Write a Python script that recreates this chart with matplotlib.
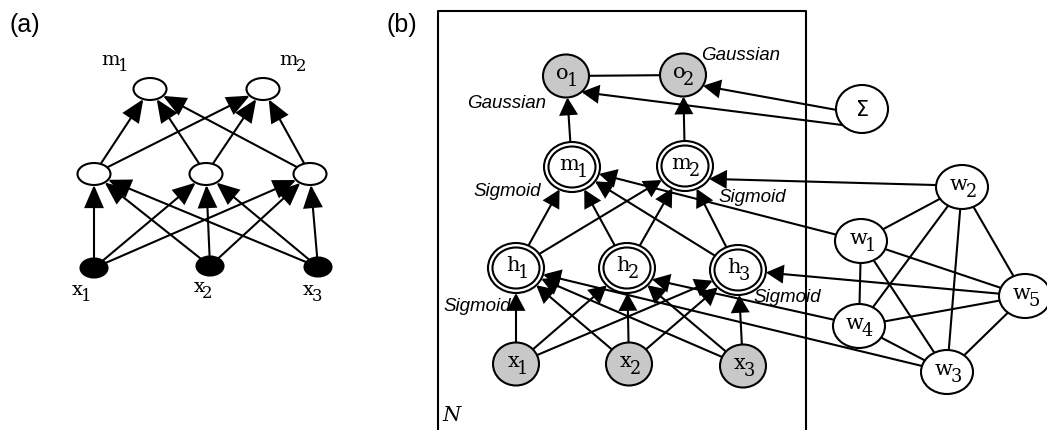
import matplotlib
matplotlib.use('Agg')
import matplotlib.pyplot as plt
import numpy as np
from matplotlib.patches import Ellipse, FancyArrowPatch, ArrowStyle
from matplotlib.textpath import TextPath
from matplotlib.font_manager import FontProperties

# ---- node labels (letter, subscript) ----
labels = {
    'a_x1': ('x', '1'), 'a_x2': ('x', '2'), 'a_x3': ('x', '3'),
    'a_m1': ('m', '1'), 'a_m2': ('m', '2'),
    'o1': ('o', '1'), 'o2': ('o', '2'),
    'm1': ('m', '1'), 'm2': ('m', '2'),
    'h1': ('h', '1'), 'h2': ('h', '2'), 'h3': ('h', '3'),
    'x1': ('x', '1'), 'x2': ('x', '2'), 'x3': ('x', '3'),
    'w1': ('w', '1'), 'w2': ('w', '2'), 'w3': ('w', '3'),
    'w4': ('w', '4'), 'w5': ('w', '5'),
}

# ---- edges ----
a_in = ['a_x1', 'a_x2', 'a_x3']
a_hid = ['a_h1', 'a_h2', 'a_h3']
a_out = ['a_m1', 'a_m2']
a_edges = [(s, d) for s in a_in for d in a_hid] + [(s, d) for s in a_hid for d in a_out]

b_in = ['x1', 'x2', 'x3']
b_hid = ['h1', 'h2', 'h3']
b_mid = ['m1', 'm2']
b_edges = [(s, d) for s in b_in for d in b_hid] + [(s, d) for s in b_hid for d in b_mid]
b_edges += [('m1', 'o1'), ('m2', 'o2'), ('S', 'o1'), ('S', 'o2'),
            ('w1', 'm1'), ('w2', 'm2'), ('w5', 'h3'), ('w4', 'h2'), ('w3', 'h1')]
w_nodes = ['w1', 'w2', 'w3', 'w4', 'w5']
w_edges = [(w_nodes[i], w_nodes[j]) for i in range(5) for j in range(i + 1, 5)]
plain_edges = [('o1', 'o2')] + w_edges

# attachment angles (deg, screen y down) for a few edges
ports = {('S', 'o1'): (138, 48), ('S', 'o2'): (178, 30),
         ('w2', 'm2'): (None, 31), ('w4', 'h2'): (None, 27)}

# ---- layout in pixels ----
pos = {
    'a_m1': (150, 90), 'a_m2': (263, 90),
    'a_h1': (94, 175), 'a_h2': (206, 175), 'a_h3': (310, 175),
    'a_x1': (94, 269), 'a_x2': (210, 267), 'a_x3': (318, 268),
    'o1': (566, 77), 'o2': (683, 76), 'S': (862, 110),
    'm1': (572, 168), 'm2': (685, 167),
    'h1': (516, 269), 'h2': (627, 269), 'h3': (738, 271),
    'x1': (516, 365), 'x2': (629, 365), 'x3': (743, 367),
    'w1': (861, 242), 'w2': (962, 188), 'w3': (947, 373),
    'w4': (859, 327), 'w5': (1025, 297),
}
kind = {}
for n in a_hid + a_out:
    kind[n] = 'a_open'
for n in a_in:
    kind[n] = 'a_solid'
for n in ['o1', 'o2', 'x1', 'x2', 'x3']:
    kind[n] = 'gray'
for n in b_hid + b_mid:
    kind[n] = 'double'
for n in w_nodes:
    kind[n] = 'w'
kind['S'] = 'sum'
size = {'a_open': (33, 22), 'a_solid': (27, 19), 'gray': (46, 43),
        'double': (56, 50), 'w': (52, 44), 'sum': (52, 48)}

LW = 1.5
SERIF = FontProperties(family='DejaVu Serif')

fig = plt.figure(figsize=(10.47, 4.31), dpi=100)
ax = fig.add_axes([0, 0, 1, 1])
ax.set_xlim(0, 1047)
ax.set_ylim(431, 0)
ax.axis('off')


def boundary(n, toward=None, angle=None):
    cx, cy = pos[n]
    a, b = size[kind[n]][0] / 2, size[kind[n]][1] / 2
    if angle is not None:
        t = np.radians(angle)
        return cx + a * np.cos(t), cy + b * np.sin(t)
    dx, dy = toward[0] - cx, toward[1] - cy
    d = np.hypot(dx, dy)
    dx, dy = dx / d, dy / d
    r = 1 / np.sqrt((dx / a) ** 2 + (dy / b) ** 2)
    return cx + r * dx, cy + r * dy


def link(s, d, arrow=True, head=(10, 5)):
    pa, pb = ports.get((s, d), (None, None))
    p0 = boundary(s, pos[d], pa)
    p1 = boundary(d, pos[s], pb)
    if arrow:
        st = ArrowStyle('-|>', head_length=head[0], head_width=head[1])
        ax.add_patch(FancyArrowPatch(p0, p1, arrowstyle=st, mutation_scale=1,
                                     lw=LW, color='black', shrinkA=0, shrinkB=0,
                                     joinstyle='miter', zorder=1))
    else:
        ax.plot([p0[0], p1[0]], [p0[1], p1[1]], color='black', lw=LW, zorder=1)


def width_px(s, fs):
    return TextPath((0, 0), s, size=fs, prop=SERIF).get_extents().width * 100 / 72


def sub_label(x, y, base, sub, fs, drop=7):
    # letter + large subscript, centred on x, letter baseline at y
    fs2 = fs * 0.85
    wb, ws = width_px(base, fs), width_px(sub, fs2)
    xr = x + (wb - ws) / 2
    ax.text(xr + 1, y, base, ha='right', va='baseline', fontsize=fs,
            family='DejaVu Serif', zorder=4)
    ax.text(xr - 1, y + drop, sub, ha='left', va='baseline', fontsize=fs2,
            family='DejaVu Serif', zorder=4)


for s, d in a_edges:
    link(s, d, head=(14, 6))
for s, d in b_edges:
    link(s, d, head=(10.5, 5.6))
for s, d in plain_edges:
    link(s, d, arrow=False)

# nodes
for n, (x, y) in pos.items():
    k = kind[n]
    w, h = size[k]
    fc = {'a_solid': 'black', 'gray': '#c8c8c8'}.get(k, 'white')
    ax.add_patch(Ellipse((x, y), w, h, fc=fc, ec='black', lw=LW, zorder=2))
    if k == 'double':
        ax.add_patch(Ellipse((x, y), w - 9, h - 9, fc='none', ec='black', lw=LW, zorder=3))
    if n in labels and not n.startswith('a_'):
        sub_label(x, y + 2, labels[n][0], labels[n][1], 15)
ax.text(pos['S'][0], pos['S'][1], r'$\Sigma$', ha='center', va='center', fontsize=15,
        family='DejaVu Serif', zorder=4)

# panel (a) outside labels
a_label_pos = {'a_m1': (113, 63), 'a_m2': (292, 63),
               'a_x1': (80, 293), 'a_x2': (202, 290), 'a_x3': (312, 293)}
for n, (x, y) in a_label_pos.items():
    sub_label(x, y + 2, labels[n][0], labels[n][1], 14, drop=6)

# plate
ax.plot([438, 438, 806, 806], [440, 12, 12, 440], color='black', lw=LW, zorder=0)
ax.text(452, 416, 'N', ha='center', va='center', fontsize=15,
        family='DejaVu Serif', style='italic')

# activation annotations
acts = [('Gaussian', 741, 56), ('Gaussian', 507, 104),
        ('Sigmoid', 507, 192), ('Sigmoid', 752, 198),
        ('Sigmoid', 477, 307), ('Sigmoid', 787, 298)]
for t, x, y in acts:
    ax.text(x, y, t, ha='center', va='center', fontsize=13.5,
            family='Liberation Sans', style='italic', zorder=5)

ax.text(25, 25, '(a)', ha='center', va='center', fontsize=18, family='Liberation Sans')
ax.text(402, 25, '(b)', ha='center', va='center', fontsize=18, family='Liberation Sans')

fig.savefig('out.png', dpi=100)
